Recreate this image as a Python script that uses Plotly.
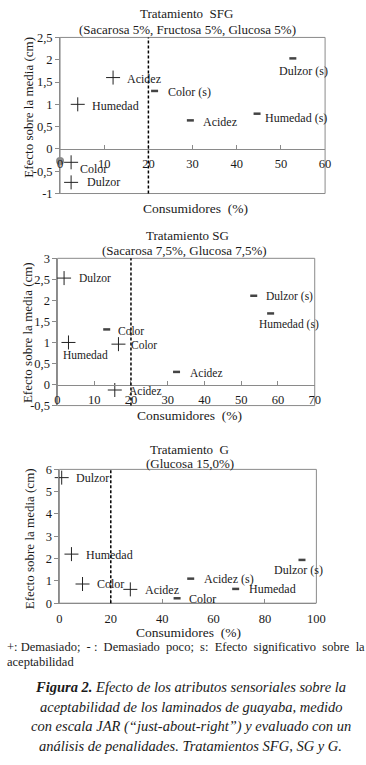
import plotly.graph_objects as go

W, H = 366, 765
FONT = "Liberation Serif"
TXT = "#1a1a1a"
GRAY = "#8a8a8a"

# ---------------- data ----------------
# Tratamiento SFG
sfg_x = [12, 4, 2.5, 2.5, 52.7, 21.4, 29.5, 44.6]
sfg_y = [1.6, 1.0, -0.3, -0.75, 2.03, 1.3, 0.64, 0.79]
sfg_kind = ['+', '+', '+', '+', '-', '-', '-', '-']
sfg_label = ['Acidez', 'Humedad', 'Color', 'Dulzor', 'Dulzor (s)', 'Color (s)', 'Acidez', 'Humedad (s)']
sfg_extra_x = [0]
sfg_extra_y = [-0.27]

# Tratamiento SG
sg_x = [1.8, 3.0, 16.6, 15.6, 13.4, 53.4, 58.0, 32.4]
sg_y = [2.53, 1.0, 0.96, -0.13, 1.31, 2.11, 1.69, 0.30]
sg_kind = ['+', '+', '+', '+', '-', '-', '-', '-']
sg_label = ['Dulzor', 'Humedad', 'Color', 'Acidez', 'Color', 'Dulzor (s)', 'Humedad (s)', 'Acidez']

# Tratamiento G
g_x = [0.9, 4.7, 9.0, 27.6, 45.8, 51.1, 68.6, 94.4]
g_y = [5.63, 2.2, 0.86, 0.62, 0.22, 1.1, 0.64, 1.94]
g_kind = ['+', '+', '+', '+', '-', '-', '-', '-']
g_label = ['Dulzor', 'Humedad', 'Color', 'Acidez', 'Color', 'Acidez (s)', 'Humedad', 'Dulzor (s)']

sfg_xticks = [0, 10, 20, 30, 40, 50, 60]
sfg_yticks = [-1, -0.5, 0, 0.5, 1, 1.5, 2, 2.5]
sfg_yticktext = ['-1', '-0,5', '0', '0,5', '1', '1,5', '2', '2,5']
sg_xticks = [0, 10, 20, 30, 40, 50, 60, 70]
sg_yticks = [-0.5, 0, 0.5, 1, 1.5, 2, 2.5, 3]
sg_yticktext = ['-0,5', '0', '0,5', '1', '1,5', '2', '2,5', '3']
g_xticks = [0, 20, 40, 60, 80, 100]
g_yticks = [0, 1, 2, 3, 4, 5, 6]

threshold = 20

# ---------------- label offsets (style, pixels: dx, dy-down, anchor) ----------------
sfg_off = [(12, 1.5, 'left'), (12, 2, 'left'), (7, 6.5, 'left'), (14, 0, 'left'),
           (11, 12.5, 'center'), (11, 1, 'left'), (11, 2, 'left'), (6, 4.5, 'left')]
sg_off = [(13, 0, 'left'), (17, 12.5, 'center'), (11, 1, 'left'), (12, 0.5, 'left'),
          (9.5, 2, 'left'), (10, 0.5, 'left'), (18, 11, 'center'), (11, 1, 'left')]
g_off = [(12, 0.5, 'left'), (12.5, 1, 'left'), (12, 0, 'left'), (12.4, 1, 'left'),
         (10, 1, 'left'), (11, 0.5, 'left'), (11, 0.5, 'left'), (-3, 10, 'center')]


def PX(px):
    return px / W


def PY(py):
    return 1 - py / H


panels = [
    dict(name='', xs=sfg_x, ys=sfg_y, kind=sfg_kind, lab=sfg_label, off=sfg_off,
         xd=(59, 333), yd=(31, 190), xr=(0, 60), yr=(-1, 2.5),
         xt=sfg_xticks, yt=sfg_yticks, ytt=sfg_yticktext, zero=True, fs=12,
         t1=("Tratamiento  SFG", 190, 7), t2=("(Sacarosa 5%, Fructosa 5%, Glucosa 5%)", 190.5, 22.5),
         xtitle=(199.5, 205), ytitle=(26.5, 102)),
    dict(name='2', xs=sg_x, ys=sg_y, kind=sg_kind, lab=sg_label, off=sg_off,
         xd=(56.3, 322.3), yd=(256, 406), xr=(0, 70), yr=(-0.5, 3),
         xt=sg_xticks, yt=sg_yticks, ytt=sg_yticktext, zero=True, fs=11.5,
         t1=("Tratamiento SG", 191, 233), t2=("(Sacarosa 7,5%, Glucosa 7,5%)", 187.5, 248),
         xtitle=(192.5, 416), ytitle=(26, 332)),
    dict(name='3', xs=g_x, ys=g_y, kind=g_kind, lab=g_label, off=g_off,
         xd=(58.3, 324), yd=(471, 607.3), xr=(0, 100), yr=(0, 6),
         xt=g_xticks, yt=g_yticks, ytt=[str(v) for v in g_yticks], zero=False, fs=12,
         t1=("Tratamiento  G", 192.5, 450.5), t2=("(Glucosa 15,0%)", 193, 465.5),
         xtitle=(192, 637), ytitle=(27, 542)),
]

fig = go.Figure()
layout = dict(width=W, height=H, margin=dict(l=0, r=0, t=0, b=0),
              paper_bgcolor='white', plot_bgcolor='white', showlegend=False,
              font=dict(family=FONT, color=TXT, size=12))
annotations = []
shapes = []

for p in panels:
    n = p['name']
    xa, ya = 'x' + n, 'y' + n
    xdom = [PX(p['xd'][0]), PX(p['xd'][1])]
    ydom = [PY(p['yd'][1]), PY(p['yd'][0])]
    y0, y1 = p['yr']
    if p['zero']:
        pos = ydom[0] + (0 - y0) / (y1 - y0) * (ydom[1] - ydom[0])
        xaxis = dict(anchor='free', position=pos)
        standoff = 3
    else:
        xaxis = dict(anchor=ya)
        standoff = 4
    xaxis.update(domain=xdom, range=list(p['xr']), showgrid=False, zeroline=False,
                 showline=True, linecolor=GRAY, linewidth=1,
                 ticks='inside', ticklen=4, tickcolor=GRAY, tickwidth=1,
                 tickvals=p['xt'], ticktext=[str(v) for v in p['xt']],
                 tickfont=dict(family=FONT, size=12.5, color=TXT),
                 ticklabelstandoff=standoff, fixedrange=True)
    yaxis = dict(domain=ydom, range=list(p['yr']), anchor=xa, showgrid=False, zeroline=False,
                 showline=True, linecolor=GRAY, linewidth=1,
                 ticks='outside', ticklen=4, tickcolor=GRAY, tickwidth=1,
                 tickvals=p['yt'], ticktext=p['ytt'],
                 tickfont=dict(family=FONT, size=12.5, color=TXT), fixedrange=True)
    layout['xaxis' + n] = xaxis
    layout['yaxis' + n] = yaxis

    # box
    shapes.append(dict(type='rect', xref=xa + ' domain', yref=ya + ' domain',
                       x0=0, x1=1, y0=0, y1=1, line=dict(color=GRAY, width=1), layer='below'))
    # dashed threshold
    shapes.append(dict(type='line', xref=xa, yref=ya + ' domain', x0=threshold, x1=threshold,
                       y0=0, y1=1, line=dict(color='black', width=1.5, dash='3px,2px')))

    px_ = [x for x, k in zip(p['xs'], p['kind']) if k == '+']
    py_ = [y for y, k in zip(p['ys'], p['kind']) if k == '+']
    mx_ = [x for x, k in zip(p['xs'], p['kind']) if k == '-']
    my_ = [y for y, k in zip(p['ys'], p['kind']) if k == '-']
    fig.add_trace(go.Scatter(x=px_, y=py_, xaxis=xa, yaxis=ya, mode='markers', cliponaxis=False,
                             marker=dict(symbol='cross-thin', size=10, color='#222',
                                         line=dict(color='#222', width=1))))
    fig.add_trace(go.Scatter(x=mx_, y=my_, xaxis=xa, yaxis=ya, mode='markers', cliponaxis=False,
                             marker=dict(symbol='line-ew', size=5, color='#444',
                                         line=dict(color='#444', width=2.5))))

    for x, y, lab, (dx, dy, anc) in zip(p['xs'], p['ys'], p['lab'], p['off']):
        annotations.append(dict(x=x, y=y, xref=xa, yref=ya, text=lab, showarrow=False,
                                xanchor=anc, yanchor='middle', xshift=dx, yshift=-dy,
                                font=dict(family=FONT, size=p['fs'], color=TXT)))

    t1, t1x, t1y = p['t1']
    t2, t2x, t2y = p['t2']
    annotations.append(dict(x=PX(t1x), y=PY(t1y), xref='paper', yref='paper', text=t1,
                            showarrow=False, xanchor='center', yanchor='middle',
                            font=dict(family=FONT, size=13, color=TXT)))
    annotations.append(dict(x=PX(t2x), y=PY(t2y), xref='paper', yref='paper', text=t2,
                            showarrow=False, xanchor='center', yanchor='middle',
                            font=dict(family=FONT, size=13, color=TXT)))
    annotations.append(dict(x=PX(p['xtitle'][0]), y=PY(p['xtitle'][1]), xref='paper', yref='paper',
                            text='Consumidores  (%)', showarrow=False, xanchor='center',
                            yanchor='middle', font=dict(family=FONT, size=13.5, color=TXT)))
    annotations.append(dict(x=PX(p['ytitle'][0]), y=PY(p['ytitle'][1]), xref='paper', yref='paper',
                            text='Efecto sobre la media (cm)', showarrow=False, textangle=-90,
                            xanchor='center', yanchor='middle',
                            font=dict(family=FONT, size=13, color=TXT)))

# gray blob near origin of SFG
fig.add_trace(go.Scatter(x=sfg_extra_x, y=sfg_extra_y, xaxis='x', yaxis='y', mode='markers',
                         cliponaxis=False,
                         marker=dict(symbol='circle', size=8, color='#8c8c8c',
                                     line=dict(width=0))))

# footnote (justified line + last line)
annotations.append(dict(x=PX(2), y=PY(652), xref='paper', yref='paper',
                        text='+: Demasiado;\u00a0 - :\u00a0 Demasiado\u00a0 poco;\u00a0 s:\u00a0 Efecto\u00a0 significativo\u00a0 sobre\u00a0 la',
                        showarrow=False, xanchor='left', yanchor='middle',
                        font=dict(family=FONT, size=12.5, color=TXT)))
annotations.append(dict(x=PX(2), y=PY(667), xref='paper', yref='paper', text='aceptabilidad',
                        showarrow=False, xanchor='left', yanchor='middle',
                        font=dict(family=FONT, size=12.5, color=TXT)))

caption = [
    '<b><i>Figura 2.</i></b><i> Efecto de los atributos sensoriales sobre la</i>',
    '<i>aceptabilidad de los laminados de guayaba, medido</i>',
    '<i>con escala JAR (“just-about-right”) y evaluado con un</i>',
    '<i>análisis de penalidades. Tratamientos SFG, SG y G.</i>',
]
cap_y = [693, 713, 733, 753]
for line, y in zip(caption, cap_y):
    annotations.append(dict(x=PX(194), y=PY(y), xref='paper', yref='paper', text=line,
                            showarrow=False, xanchor='center', yanchor='middle',
                            font=dict(family=FONT, size=14.5, color=TXT)))

layout['annotations'] = annotations
layout['shapes'] = shapes
fig.update_layout(**layout)
fig.write_html("out.html", config={'displayModeBar': False},
               post_script="document.body.style.margin='0px';")
